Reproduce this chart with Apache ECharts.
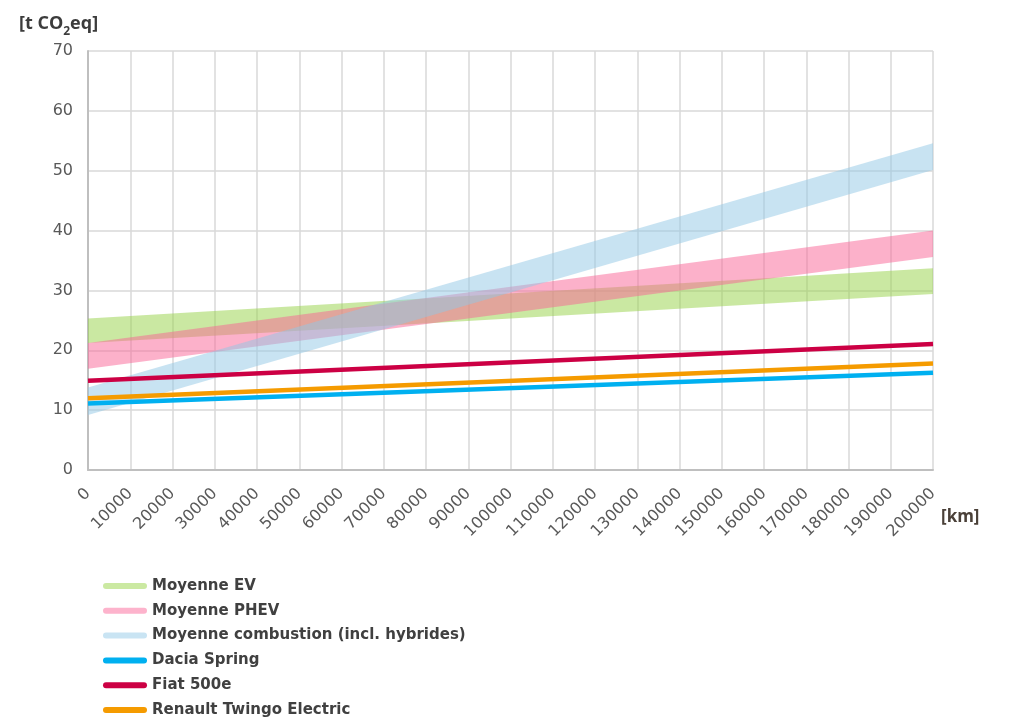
<!DOCTYPE html>
<html><head><meta charset="utf-8">
<script src="https://cdn.jsdelivr.net/npm/echarts@6/dist/echarts.min.js"></script>
<style>html,body{margin:0;padding:0;background:#fff}#c{width:1012px;height:725px}</style>
</head><body><div id="c"></div>
<script>
// distance points (km)
const km = [0, 200000];
// bands (lower / upper, t CO2eq)
const evLow = [21.2, 29.4], evHigh = [25.3, 33.7];
const phevLow = [16.9, 35.6], phevHigh = [21.2, 40.0];
const combLow = [9.2, 50.1], combHigh = [13.8, 54.6];
// vehicles
const dacia = [11.1, 16.25];
const fiat = [14.9, 21.05];
const twingo = [12.0, 17.8];
const yTicks = [0, 10, 20, 30, 40, 50, 60, 70];

const FONT = '"Open Sans", Lato, sans-serif';
const WIDE = '"DejaVu Sans", sans-serif';
const pts = arr => km.map((x, i) => [x, arr[i]]);

function band(name, lo, hi, color) {
  const data = km.map((x, i) => [x, lo[i], hi[i]]);
  return {
    name, type: 'custom', z: 1, silent: true,
    itemStyle: { color },
    data: [0],
    encode: { x: -1, y: -1 },
    renderItem: (params, api) => {
      const top = data.map(d => api.coord([d[0], d[2]]));
      const bot = data.slice().reverse().map(d => api.coord([d[0], d[1]]));
      return { type: 'polygon', shape: { points: top.concat(bot) }, style: { fill: color } };
    }
  };
}
function line(name, data, color) {
  return { name, type: 'line', data: pts(data), symbol: 'none', z: 3,
    lineStyle: { color, width: 4.5 }, itemStyle: { color } };
}
const ICON = 'path://M3,0 H41 A3,3 0 0 1 41,6 H3 A3,3 0 0 1 3,0 Z';

const chart = echarts.init(document.getElementById('c'));
chart.setOption({
  animation: false,
  textStyle: { fontFamily: FONT },
  grid: { left: 88, right: 79, top: 51, bottom: 255 },
  title: {
    left: 14, top: 6,
    text: '{a|[t CO}{s|2}{a|eq]}',
    textStyle: { rich: {
      a: { fontFamily: FONT, fontWeight: 'bold', fontSize: 18, color: '#3c3c3c', verticalAlign: 'bottom', lineHeight: 22 },
      s: { fontFamily: FONT, fontWeight: 'bold', fontSize: 12, color: '#3c3c3c', verticalAlign: 'bottom', lineHeight: 22, padding: [0, 0, -5, 0] }
    } }
  },
  graphic: [{ type: 'text', left: 941, top: 509,
    style: { text: '[km]', fontFamily: FONT, fontWeight: 'bold', fontSize: 17, fill: '#4a4038' } }],
  xAxis: {
    type: 'value', min: 0, max: 200000, interval: 10000,
    axisLine: { show: true, lineStyle: { color: '#bfbfbf', width: 2 } },
    axisTick: { show: false },
    splitLine: { show: true, lineStyle: { color: '#d9d9d9', width: 1.5 } },
    axisLabel: { rotate: 45, color: '#595959', fontSize: 16, fontFamily: WIDE, margin: 21,
      formatter: v => String(v) }
  },
  yAxis: {
    type: 'value', min: 0, max: 70, interval: 10,
    axisLine: { show: true, lineStyle: { color: '#bfbfbf', width: 2 } },
    axisTick: { show: false },
    splitLine: { show: true, lineStyle: { color: '#d9d9d9', width: 1.5 } },
    axisLabel: { color: '#595959', fontSize: 16, fontFamily: WIDE, margin: 15,
      formatter: v => yTicks.includes(v) ? String(v) : '' }
  },
  legend: {
    orient: 'vertical', left: 98, top: 572, height: 160, itemGap: 6.8, itemWidth: 44, itemHeight: 6,
    selectedMode: false,
    textStyle: { fontFamily: WIDE, fontWeight: 'bold', fontSize: 15, color: '#404040', lineHeight: 18 },
    data: [
      { name: 'Moyenne EV', icon: ICON, itemStyle: { color: '#cbe9a2' } },
      { name: 'Moyenne PHEV', icon: ICON, itemStyle: { color: '#fdb3cc' } },
      { name: 'Moyenne combustion (incl. hybrides)', icon: ICON, itemStyle: { color: '#c9e4f3' } },
      { name: 'Dacia Spring', icon: ICON, itemStyle: { color: '#00b0f0' } },
      { name: 'Fiat 500e', icon: ICON, itemStyle: { color: '#cc0044' } },
      { name: 'Renault Twingo Electric', icon: ICON, itemStyle: { color: '#f59b00' } }
    ]
  },
  series: [
    band('Moyenne EV', evLow, evHigh, 'rgba(150,210,70,0.5)'),
    band('Moyenne PHEV', phevLow, phevHigh, 'rgba(250,100,150,0.5)'),
    band('Moyenne combustion (incl. hybrides)', combLow, combHigh, 'rgba(145,200,230,0.5)'),
    line('Dacia Spring', dacia, '#00b0f0'),
    line('Fiat 500e', fiat, '#cc0044'),
    line('Renault Twingo Electric', twingo, '#f59b00')
  ]
});
</script></body></html>
